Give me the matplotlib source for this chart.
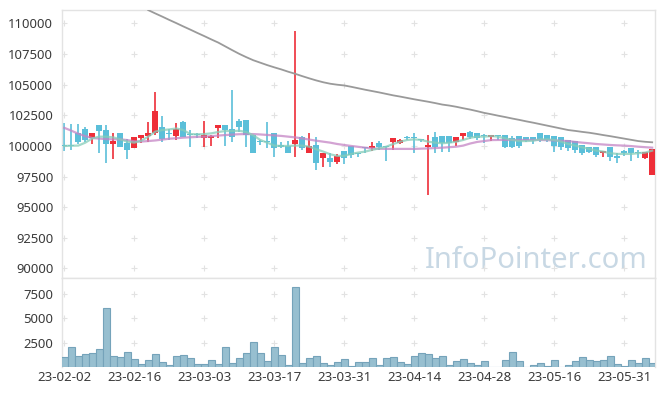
import matplotlib
matplotlib.use("Agg")
import matplotlib.pyplot as plt
import numpy as np

plt.rcParams['font.family'] = ['Noto Sans', 'DejaVu Sans']

# ---------------- data ----------------
tick_idx = [0, 10, 20, 30, 40, 50, 60, 70, 80]
tick_labels = ["23-02-02", "23-02-16", "23-03-03", "23-03-17", "23-03-31",
               "23-04-14", "23-04-28", "23-05-16", "23-05-31"]

opens = [100030, 100030, 101030, 101350, 100620, 101700, 101300, 100160, 101030, 100220,
         99860, 100670, 100810, 101080, 101540, 101050, 100840, 101920, 100920, 100910,
         100670, 100690, 101480, 101700, 101380, 102020, 102100, 100890, 100330, 100330,
         101030, 100050, 100030, 100160, 100700, 99460, 100080, 99050, 99050, 98680,
         99600, 100030, 99350, 99920, 99810, 100220, 99970, 100350, 100270, 100690,
         100750, 100520, 99890, 100760, 100810, 100810, 100300, 100840, 101110, 101030,
         100860, 100760, 100890, 100890, 100670, 100840, 100760, 100760, 101080, 100890,
         100840, 100730, 100490, 100400, 100080, 99890, 99940, 99460, 99940, 99220,
         99620, 99810, 99480, 99050, 97600]
closes = [99970, 99980, 100350, 100490, 101030, 101240, 100160, 100400, 99940, 99680,
          100700, 100890, 101030, 102830, 100540, 101000, 101350, 100700, 100880, 100880,
          100890, 100850, 101700, 101300, 100700, 101560, 100890, 99410, 100290, 100290,
          99810, 99890, 99460, 100490, 99810, 100000, 98600, 99410, 98680, 99190,
          99050, 99270, 99310, 99810, 100000, 99890, 99900, 100670, 100490, 100660,
          100620, 100490, 100080, 99940, 100220, 100270, 100700, 101030, 100700, 100620,
          100830, 100890, 100820, 99940, 99940, 100030, 100490, 100490, 100490, 100490,
          100030, 99940, 99810, 99680, 99460, 99540, 99270, 99600, 99130, 99000,
          99410, 99410, 99440, 99540, 99730]
highs = [101900, 101780, 101780, 101570, 101030, 101700, 101700, 101030, 101030, 100540,
         100750, 100890, 101970, 104400, 102450, 101400, 101860, 102000, 101300, 101050,
         102020, 100890, 101750, 101700, 104530, 102240, 102100, 100890, 100500, 101920,
         101030, 100300, 100400, 109390, 100800, 101030, 100700, 99410, 99410, 99330,
         99600, 100030, 99450, 99920, 100350, 100400, 99970, 100670, 100600, 100800,
         101030, 100600, 100890, 101160, 100810, 100810, 100700, 101030, 101200, 101030,
         101000, 100890, 100890, 100890, 100800, 100840, 100760, 100760, 101080, 100890,
         100840, 100730, 100490, 100400, 100080, 99890, 99940, 99600, 99940, 99410,
         99700, 99810, 99680, 99540, 99730]
lows = [99550, 99680, 100160, 100320, 100160, 99460, 98620, 98940, 99900, 98940,
        99860, 100240, 100350, 100890, 100350, 100490, 100490, 100700, 99940, 100650,
        99940, 100000, 100670, 100000, 100300, 101100, 99940, 99410, 100050, 99810,
        99130, 99800, 99460, 99130, 99680, 99460, 98000, 98320, 98320, 98490,
        98490, 99000, 99100, 99410, 99620, 99700, 98780, 99680, 100200, 100450,
        99410, 100300, 96030, 99410, 99540, 99540, 100000, 100490, 100600, 100450,
        100220, 100400, 100450, 99800, 99800, 99810, 100350, 100200, 100300, 100350,
        99540, 99700, 99600, 99410, 99300, 99400, 99130, 99080, 98780, 98600,
        99200, 98780, 99000, 98950, 97600]

ma5 = [100000, 100020, 100030, 100270, 100620, 100760, 100760, 100700, 100540, 100350,
       100270, 100430, 100760, 101170, 101300, 101350, 101430, 101300, 100970, 100950,
       100970, 101030, 101140, 101220, 101220, 101240, 101140, 100870, 100490, 100270,
       100030, 100000, 100000, 100030, 100030, 99940, 99730, 99540, 99320, 99190,
       99190, 99350, 99460, 99540, 99680, 99810, 99940, 100160, 100350, 100490,
       100540, 100490, 100350, 100270, 100220, 100270, 100350, 100490, 100670, 100760,
       100760, 100810, 100760, 100620, 100490, 100400, 100400, 100430, 100540, 100540,
       100490, 100350, 100160, 100030, 99890, 99760, 99620, 99540, 99410, 99350,
       99350, 99350, 99410, 99460, 99620]
ma20 = [101480, 101250, 101000, 100800, 100650, 100600, 100560, 100540, 100540, 100480,
        100380, 100360, 100400, 100450, 100520, 100590, 100630, 100680, 100710, 100740,
        100760, 100800, 100850, 100890, 100930, 100960, 100970, 100970, 100940, 100900,
        100860, 100820, 100760, 100700, 100620, 100520, 100430, 100350, 100270, 100160,
        100080, 100000, 99930, 99860, 99800, 99770, 99760, 99760, 99760, 99760,
        99760, 99780, 99800, 99830, 99860, 99900, 99940, 100030, 100200, 100330,
        100400, 100480, 100490, 100490, 100490, 100490, 100490, 100490, 100490, 100470,
        100450, 100420, 100400, 100330, 100270, 100220, 100160, 100120, 100080, 100050,
        100030, 99990, 99940, 99900, 99860]
ma_long = [np.nan] * 12 + [
        111090, 110820, 110560, 110290, 110030, 109760, 109500, 109230, 108970, 108700,
        108440, 108130, 107820, 107520, 107250, 107000, 106800, 106600, 106420, 106250,
        106060, 105890, 105700, 105520, 105350, 105200, 105080, 105000, 104940, 104830,
        104710, 104590, 104480, 104370, 104250, 104130, 104030, 103920, 103810, 103710,
        103610, 103500, 103380, 103300, 103200, 103080, 102970, 102840, 102700, 102590,
        102470, 102360, 102240, 102130, 102010, 101900, 101780, 101660, 101540, 101420,
        101300, 101230, 101150, 101080, 100990, 100890, 100800, 100700, 100600, 100500,
        100400, 100340, 100300]

volume = [990, 2010, 1090, 1300, 1400, 1800, 6090, 1090, 990, 1500,
          790, 280, 680, 1300, 480, 170, 1090, 1190, 890, 280,
          280, 680, 280, 2010, 380, 890, 1400, 2520, 1400, 580,
          2010, 1190, 170, 8230, 380, 890, 1090, 380, 170, 480,
          780, 100, 480, 480, 890, 170, 890, 990, 480, 280,
          1090, 1400, 1300, 890, 1090, 170, 580, 780, 380, 170,
          580, 30, 30, 680, 1500, 580, 0, 170, 380, 70,
          680, 30, 170, 580, 990, 680, 580, 680, 1090, 280,
          70, 680, 380, 890, 380]

price_ticks = [90000, 92500, 95000, 97500, 100000, 102500, 105000, 107500, 110000]
vol_ticks = [2500, 5000, 7500]

# ---------------- style ----------------
UP = '#ee2e38'
DOWN = '#5bbfd9'
SPINE = '#e3e3e3'
TXT = '#3a3a3a'
GRIDC = '#e2e2e2'

W, H = 665, 396
fig = plt.figure(figsize=(W / 100, H / 100), dpi=100)
left, right = 61.7 / W, 655 / W
ax = fig.add_axes([left, 1 - 278 / H, right - left, (278 - 10) / H])
axv = fig.add_axes([left, 1 - 367 / H, right - left, (367 - 278) / H], sharex=ax)

n = len(opens)
x = np.arange(n)
o = np.array(opens, float)
c = np.array(closes, float)
hi = np.array(highs, float)
lo = np.array(lows, float)
up = c > o
colors = np.where(up, UP, DOWN)

# wicks
ax.vlines(x, lo, hi, colors=colors, linewidth=1.2, zorder=2)
# bodies
bottom = np.minimum(o, c)
height = np.maximum(np.abs(c - o), 90)
ax.bar(x, height, bottom=bottom, width=0.8, color=colors, linewidth=0, zorder=3)

# moving averages
ax.plot(x, ma_long, color='#9a9a9a', linewidth=1.3, zorder=4)
ax.plot(x, ma20, color='#c585c5', linewidth=1.6, alpha=0.75, zorder=4)
ax.plot(x, ma5, color='#86cdb9', linewidth=1.6, alpha=0.75, zorder=4)

ax.set_xlim(-0.37, 84.4)
ax.set_ylim(89220, 111100)
ax.set_yticks(price_ticks)
ax.set_yticklabels([str(t) for t in price_ticks])
ax.tick_params(axis='y', length=0, pad=6, labelsize=9.4, labelcolor=TXT)
ax.tick_params(axis='x', length=0, labelbottom=False)
ax.set_xticks(tick_idx)

# grid "+" markers
gx, gy = np.meshgrid(tick_idx, price_ticks)
ax.plot(gx.ravel(), gy.ravel(), linestyle='none', marker='+', markersize=4,
        color=GRIDC, markeredgewidth=0.8, zorder=1)

for s in ax.spines.values():
    s.set_color(SPINE)
    s.set_linewidth(1)

ax.text(648 / W, 1 - 268 / H, "InfoPointer.com", transform=fig.transFigure,
        ha='right', va='baseline', fontsize=21, color='#c8d8e4', zorder=0,
        family=['Noto Sans', 'DejaVu Sans'])

# volume
axv.bar(x, volume, width=1.0, color='#97bfd0', edgecolor='#75a3ba',
        linewidth=0.8, zorder=3)
axv.set_ylim(0, 9150)
axv.set_yticks(vol_ticks)
axv.set_yticklabels([str(t) for t in vol_ticks])
axv.set_xticks(tick_idx)
axv.set_xticklabels(tick_labels)
axv.tick_params(axis='y', length=0, pad=6, labelsize=9.4, labelcolor=TXT)
axv.tick_params(axis='x', length=0, pad=3, labelsize=9.6, labelcolor=TXT)
vgx, vgy = np.meshgrid(tick_idx, vol_ticks)
axv.plot(vgx.ravel(), vgy.ravel(), linestyle='none', marker='+', markersize=4,
         color=GRIDC, markeredgewidth=0.8, zorder=1)
for s in axv.spines.values():
    s.set_color(SPINE)
    s.set_linewidth(1)
axv.spines['bottom'].set_visible(False)

fig.savefig("out.png", dpi=100, facecolor='white')
